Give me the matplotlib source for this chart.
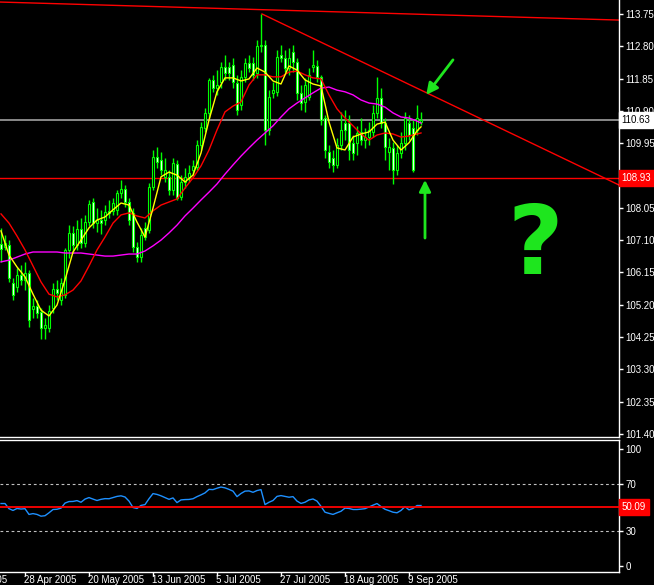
import numpy as np
import matplotlib.pyplot as plt
import matplotlib.transforms as mtransforms

plt.rcParams['font.family'] = ['Liberation Sans', 'DejaVu Sans']

# Daily USD/JPY candles, 20 Apr 2005 .. 14 Sep 2005 (bar index 0..105)
opens = [106.98, 106.90, 106.95, 105.84, 105.72, 106.07, 105.93, 106.13, 105.07, 105.16,
         104.99, 104.51, 104.51, 105.10, 105.66, 105.34, 105.49, 106.81, 107.31, 106.95,
         107.43, 107.01, 107.63, 108.22, 107.60, 107.69, 107.69, 107.96, 107.96, 107.99,
         108.49, 108.60, 108.22, 107.90, 106.90, 106.60, 107.46, 107.40, 108.66, 109.54,
         109.46, 108.96, 108.96, 108.57, 109.34, 108.37, 108.81, 108.96, 109.16, 109.25,
         109.90, 110.40, 110.84, 111.81, 111.57, 111.75, 112.19, 112.19, 112.25, 111.72,
         111.07, 111.90, 112.31, 112.31, 112.01, 112.81, 112.84, 110.34, 111.43, 111.46,
         112.54, 112.46, 112.16, 112.63, 112.34, 111.43, 111.16, 111.31, 112.19, 112.22,
         111.90, 110.69, 109.69, 109.51, 109.31, 109.90, 110.54, 110.54, 109.96, 109.96,
         110.28, 110.04, 110.13, 110.28, 110.84, 111.28, 110.54, 109.69, 109.81, 109.16,
         109.66, 109.96, 110.54, 110.40, 110.34, 110.58]
highs = [107.46, 107.25, 107.10, 105.99, 106.28, 106.37, 106.46, 106.22, 105.40, 105.34,
         105.10, 104.81, 105.19, 105.84, 105.93, 105.99, 106.87, 107.54, 107.51, 107.69,
         107.75, 107.84, 108.28, 108.34, 108.04, 107.99, 108.13, 108.28, 108.34, 108.57,
         108.87, 108.72, 108.34, 108.04, 107.04, 107.46, 107.63, 108.78, 109.75, 109.84,
         109.69, 109.51, 109.16, 109.51, 109.46, 109.01, 109.22, 109.31, 109.46, 110.04,
         110.57, 110.99, 111.87, 111.96, 112.10, 112.34, 112.54, 112.34, 112.46, 111.96,
         112.10, 112.46, 112.54, 112.49, 112.99, 113.75, 112.99, 111.51, 111.75, 112.69,
         112.84, 112.69, 112.75, 112.84, 112.46, 111.66, 111.87, 112.16, 112.69, 112.40,
         111.96, 110.78, 109.90, 109.75, 110.10, 110.87, 110.93, 110.78, 110.19, 110.46,
         110.69, 110.40, 110.57, 111.07, 111.90, 111.57, 110.69, 110.10, 109.99, 109.90,
         110.28, 110.87, 110.78, 110.63, 111.07, 110.87]
lows = [106.46, 106.81, 105.87, 105.34, 105.57, 105.78, 105.63, 104.54, 104.81, 104.81,
        104.19, 104.19, 104.40, 104.96, 105.34, 105.19, 105.40, 106.57, 106.72, 106.81,
        106.87, 106.90, 107.51, 107.46, 107.34, 107.28, 107.54, 107.75, 107.84, 107.84,
        108.34, 108.07, 107.54, 106.75, 106.46, 106.46, 107.10, 107.31, 108.57, 109.22,
        109.01, 108.81, 108.43, 108.43, 108.28, 108.28, 108.63, 108.81, 109.01, 109.16,
        109.75, 110.28, 110.69, 111.46, 111.37, 111.57, 111.81, 111.81, 111.57, 110.78,
        110.93, 111.75, 112.04, 111.81, 111.87, 112.63, 109.90, 110.19, 111.28, 111.34,
        112.34, 112.04, 111.96, 112.04, 111.22, 110.93, 110.87, 111.22, 112.04, 111.75,
        110.49, 109.51, 109.22, 109.10, 109.22, 109.75, 110.04, 109.46, 109.46, 109.60,
        109.90, 109.81, 109.90, 110.13, 110.69, 110.40, 109.46, 109.16, 108.75, 109.01,
        109.51, 109.75, 110.04, 109.10, 110.19, 110.49]
closes = [106.84, 107.01, 105.99, 105.49, 106.07, 105.93, 106.13, 104.75, 105.16, 104.96,
          104.51, 104.60, 105.01, 105.66, 105.54, 105.84, 106.81, 107.31, 106.95, 107.43,
          107.01, 107.63, 108.16, 107.60, 107.69, 107.60, 107.93, 107.90, 108.19, 108.49,
          108.60, 108.22, 107.69, 106.90, 106.60, 107.25, 107.19, 108.66, 109.54, 109.40,
          109.16, 109.16, 108.57, 109.37, 108.34, 108.81, 108.96, 109.07, 109.28, 109.90,
          110.43, 110.84, 111.81, 111.57, 111.66, 112.19, 112.01, 112.01, 111.75, 110.93,
          111.90, 112.31, 112.16, 111.96, 112.81, 112.84, 110.34, 111.31, 111.51, 112.49,
          112.46, 112.16, 112.46, 112.34, 111.43, 111.13, 111.66, 111.96, 112.25, 111.90,
          110.63, 109.75, 109.40, 109.31, 109.90, 110.34, 110.34, 109.75, 109.66, 110.25,
          110.04, 110.13, 110.34, 110.84, 111.28, 110.54, 109.84, 109.84, 109.16, 109.66,
          109.96, 110.69, 110.19, 109.16, 110.69, 110.63]

# moving averages read every second bar (plus the last bar)
ma_bars = list(range(0, 105, 2)) + [105]
ma_fast = [107.37, 106.66, 106.31, 106.02, 105.51, 105.04, 104.87, 105.19, 105.93, 106.75,
           107.10, 107.46, 107.69, 107.78, 107.99, 108.19, 108.13, 107.63, 107.19, 108.04,
           108.96, 109.10, 109.01, 108.81, 109.01, 109.66, 110.63, 111.46, 111.87, 111.87,
           111.78, 111.84, 112.16, 112.04, 111.78, 111.69, 112.22, 112.10, 111.81, 111.69,
           111.63, 110.57, 109.81, 109.75, 110.13, 110.22, 110.28, 110.51, 110.57, 110.04,
           109.75, 109.96, 110.31, 110.43]
ma_mid = [107.87, 107.60, 107.22, 106.81, 106.34, 105.87, 105.51, 105.43, 105.49, 105.63,
          105.90, 106.34, 106.81, 107.19, 107.60, 107.84, 107.90, 107.81, 107.75, 107.96,
          108.13, 108.22, 108.31, 108.63, 108.93, 109.28, 109.75, 110.34, 110.87, 111.04,
          111.16, 111.66, 111.96, 111.96, 111.90, 111.90, 112.04, 112.07, 111.96, 111.87,
          111.84, 111.37, 110.96, 110.69, 110.46, 110.22, 110.04, 110.19, 110.25, 110.22,
          110.13, 110.16, 110.22, 110.25]
ma_slow = [106.46, 106.51, 106.60, 106.69, 106.75, 106.75, 106.75, 106.75, 106.72, 106.72,
           106.72, 106.69, 106.66, 106.63, 106.63, 106.66, 106.69, 106.69, 106.78, 106.93,
           107.10, 107.31, 107.54, 107.81, 108.04, 108.28, 108.51, 108.75, 109.04, 109.31,
           109.57, 109.81, 110.04, 110.25, 110.46, 110.72, 110.96, 111.13, 111.28, 111.43,
           111.57, 111.60, 111.51, 111.46, 111.37, 111.22, 111.13, 111.10, 111.01, 110.84,
           110.72, 110.69, 110.60, 110.54]

rsi = [53.4, 53.4, 49.0, 47.5, 49.2, 48.7, 49.0, 44.1, 44.8, 44.1,
       42.6, 43.0, 45.5, 48.3, 48.5, 49.5, 53.8, 55.1, 55.2, 55.9,
       54.5, 57.2, 58.5, 57.2, 56.0, 57.0, 57.6, 57.5, 58.5, 59.5,
       60.0, 59.0, 55.5, 50.0, 49.2, 51.8, 52.5, 57.5, 61.9, 61.2,
       60.0, 58.5, 57.0, 58.2, 54.2, 56.5, 56.8, 56.9, 57.5, 59.3,
       60.8, 62.5, 65.5, 65.3, 66.5, 67.5, 66.8, 65.5, 64.0, 59.3,
       62.0, 64.0, 64.2, 63.0, 64.5, 65.3, 52.5, 54.5, 56.0, 59.5,
       60.2, 59.5, 58.8, 59.3, 55.5, 53.5, 54.5, 56.5, 57.3, 55.5,
       51.0, 46.0, 45.0, 44.1, 45.5, 46.8, 49.5, 49.2, 48.3, 48.3,
       48.6, 49.0, 50.5, 52.0, 53.4, 50.8, 48.5, 47.3, 46.0, 45.5,
       47.5, 50.8, 48.0, 49.2, 51.7, 51.7]

# 109.00 sits under the red 108.93 marker, so it is not listed
price_ticks = [113.75, 112.80, 111.85, 110.90, 109.95, 108.05, 107.10,
               106.15, 105.20, 104.25, 103.30, 102.35, 101.40]
rsi_ticks = [100, 70, 30, 0]
date_bars = [-10, 6, 22, 38, 54, 70, 86, 102]
date_labels = ['6 Apr 2005', '28 Apr 2005', '20 May 2005', '13 Jun 2005', '5 Jul 2005',
               '27 Jul 2005', '18 Aug 2005', '9 Sep 2005']

bid = 110.63
support = 108.93
rsi_mark = 50.09
top_line = [(-0.25, 114.10), (154.5, 113.57)]
down_line = [(65.25, 113.75), (154.5, 108.72)]
arrow_a = [(113.0, 112.40), (106.3, 111.37)]
arrow_b = [(106.0, 107.16), (106.0, 108.87)]
question = (133.5, 106.10)

W, H = 654, 585
fig = plt.figure(figsize=(W / 100, H / 100), dpi=100, facecolor='black')
ax = fig.add_axes([0, 1 - 437 / H, 619 / W, 437 / H], facecolor='black')
ax2 = fig.add_axes([0, 1 - 572 / H, 619 / W, 132 / H], facecolor='black')

lime = '#00ff00'
green = '#1ee61e'
bars = np.arange(len(opens))
o = np.array(opens)
c = np.array(closes)

# candles
ax.vlines(bars, lows, highs, color=lime, lw=1.0, zorder=3)
body_lo = np.minimum(o, c)
body_h = np.maximum(np.abs(c - o), 0.03)
face = ['black' if cc >= oo else 'white' for oo, cc in zip(o, c)]
ax.bar(bars, body_h, bottom=body_lo, width=0.6, color=face, edgecolor=lime,
       linewidth=0.8, zorder=4)

ax.plot(ma_bars, ma_slow, color='#ff00ff', lw=1.0, zorder=5)
ax.plot(ma_bars, ma_mid, color='#ff0000', lw=1.0, zorder=5)
ax.plot(ma_bars, ma_fast, color='#ffff00', lw=1.0, zorder=6)

ax.axhline(bid, color='#a0a0a0', lw=1.2, zorder=2)
ax.axhline(support, color='#ff0000', lw=1.0, zorder=2)
ax.plot(*zip(*top_line), color='#ff0000', lw=1.0, zorder=2)
ax.plot(*zip(*down_line), color='#ff0000', lw=1.0, zorder=2)

for tail, head in (arrow_a, arrow_b):
    ax.annotate('', xy=head, xytext=tail,
                arrowprops=dict(arrowstyle='-|>', color=green, lw=2.0,
                                mutation_scale=17, shrinkA=0, shrinkB=0))
ax.text(question[0], question[1], '?', fontsize=69, fontweight='bold',
        family='DejaVu Sans', color=green, ha='center', va='baseline')

ax.set_xlim(-0.25, 154.5)
ax.set_ylim(101.31, 114.16)
ax.set_xticks([])
ax.yaxis.tick_right()
ax.set_yticks(price_ticks)
ax.set_yticklabels(['%.2f' % t for t in price_ticks])
ax.tick_params(axis='y', colors='white', length=3, width=1, labelsize=7, pad=1.5)
for s in ('left', 'top'):
    ax.spines[s].set_visible(False)
for s in ('right', 'bottom'):
    ax.spines[s].set_color('white')
    ax.spines[s].set_linewidth(1.0)

trans = mtransforms.blended_transform_factory(ax.transAxes, ax.transData)
ax.text(1.004, bid, '%.2f' % bid, transform=trans, ha='left', va='center',
        fontsize=7, color='black', zorder=10, clip_on=False,
        bbox=dict(boxstyle='square,pad=0.3', fc='white', ec='white'))
ax.text(1.004, support, '%.2f' % support, transform=trans, ha='left', va='center',
        fontsize=7, color='white', zorder=10, clip_on=False,
        bbox=dict(boxstyle='square,pad=0.3', fc='#ff0000', ec='#ff0000'))

# RSI panel
ax2.plot(bars, rsi, color='#1e90ff', lw=1.0, zorder=3)
ax2.axhline(70, color='#c0c0c0', lw=0.8, ls=(0, (2.5, 2.5)))
ax2.axhline(30, color='#c0c0c0', lw=0.8, ls=(0, (2.5, 2.5)))
ax2.axhline(rsi_mark, color='#ff0000', lw=1.3, zorder=4)
ax2.set_xlim(-0.25, 154.5)
ax2.set_ylim(-5.1, 107.7)
ax2.yaxis.tick_right()
ax2.set_yticks(rsi_ticks)
ax2.set_yticklabels([str(t) for t in rsi_ticks])
ax2.tick_params(axis='y', colors='white', length=3, width=1, labelsize=7, pad=1.5)
ax2.set_xticks(date_bars[1:])
ax2.set_xticklabels([])
ax2.tick_params(axis='x', colors='white', length=3, width=1)
ax2.spines['left'].set_visible(False)
for s in ('right', 'bottom', 'top'):
    ax2.spines[s].set_color('white')
    ax2.spines[s].set_linewidth(1.0)

trans2 = mtransforms.blended_transform_factory(ax2.transAxes, ax2.transData)
ax2.text(1.004, rsi_mark, '%.2f' % rsi_mark, transform=trans2, ha='left', va='center',
         fontsize=7, color='white', zorder=10, clip_on=False,
         bbox=dict(boxstyle='square,pad=0.3', fc='#ff0000', ec='#ff0000'))

transd = mtransforms.blended_transform_factory(ax2.transData, ax2.transAxes)
for b, lab in zip(date_bars, date_labels):
    ax2.text(b - 0.3, -0.02, lab, transform=transd, ha='left', va='top',
             fontsize=7, color='white', clip_on=False)

fig.savefig('out.png', dpi=100, facecolor='black')
